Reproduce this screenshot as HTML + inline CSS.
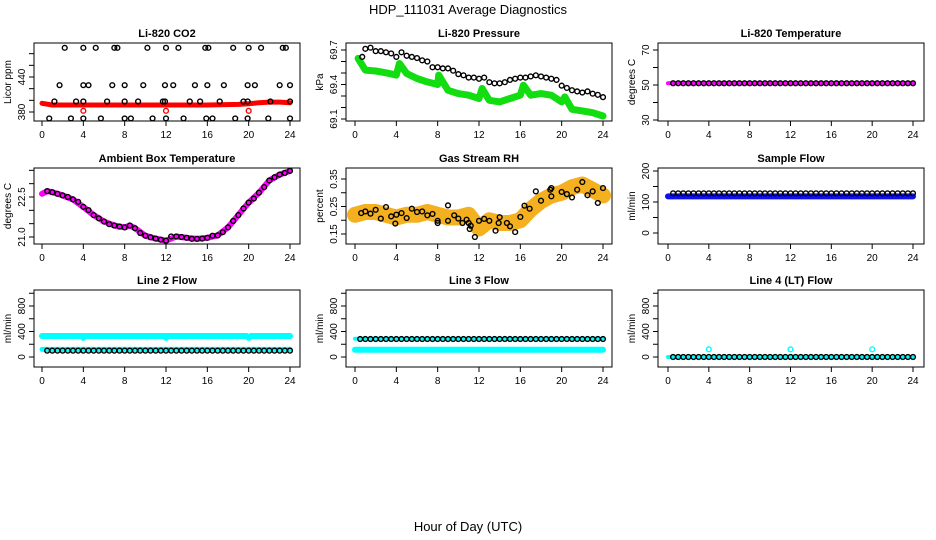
<!DOCTYPE html>
<html><head><meta charset="utf-8"><style>
body{margin:0;background:#fff}
svg{display:block;font-family:"Liberation Sans",sans-serif}
</style></head><body>
<svg id="c" width="936" height="540" viewBox="0 0 936 540">
<text x="468" y="14" text-anchor="middle" font-size="13">HDP_111031  Average Diagnostics</text>
<text x="468" y="531" text-anchor="middle" font-size="13">Hour of Day (UTC)</text>
</svg>
<script>
// ---- data ----
const xTicks=[0,4,8,12,16,20,24];
// CO2
const co2BandH=[0,1,4,8,12,16,19,20,21,22,23,24];
const co2BandV=[395,392,392,392,392,392,393,394,396,397,397,396];
const co2PtsH=[2.2,4,5.2,7,7.3,10.2,12,13.2,15.8,16.1,18.5,20,21.2,23.3,23.6, 1.7,4,4.5,6.8,8,9.8,11.9,12.7,14.8,16,17.6,19.9,20.6,23,24, 1.2,3.3,4,6.3,8,9.3,11.7,11.9,14.3,15.3,17.2,19.5,19.9,22.1,24, 0.7,2.8,4,5.7,8,8.6,10.7,12,13.7,15.9,16.5,18.7,19.9,21.9,24];
const co2PtsV=[490,490,490,490,490,490,490,490,490,490,490,490,490,490,490, 426,426,426,426,426,426,426,426,426,426,426,426,426,426,426, 398,398,398,398,398,398,398,398,398,398,398,398,398,398,398, 369,369,369,369,369,369,369,369,369,369,369,369,369,369,369];
const co2RedH=[4,12,20];
const co2RedV=[382,382,382];
// Pressure
const presBandH=[0.3,1,2,3,4,4.3,5,6,7,8,8.1,9,10,11,12,12.3,13,14,15,16,16.3,17,18,19,20,20.3,21,22,23,24];
const presBandV=[69.627,69.525,69.517,69.502,69.482,69.583,69.496,69.452,69.423,69.400,69.482,69.350,69.321,69.307,69.278,69.365,69.263,69.249,69.278,69.307,69.394,69.307,69.321,69.307,69.249,69.292,69.184,69.170,69.155,69.126];
const presPtsH=[0.7,1,1.5,2,2.5,3,3.5,4,4.5,5,5.5,6,6.5,7,7.5,8,8.5,9,9.5,10,10.5,11,11.5,12,12.5,13,13.5,14,14.5,15,15.5,16,16.5,17,17.5,18,18.5,19,19.5,20,20.5,21,21.5,22,22.5,23,23.5,24];
const presPtsV=[69.64,69.71,69.72,69.69,69.69,69.68,69.67,69.64,69.68,69.65,69.64,69.63,69.61,69.6,69.55,69.55,69.54,69.54,69.52,69.49,69.48,69.46,69.46,69.45,69.46,69.42,69.41,69.41,69.42,69.44,69.45,69.46,69.46,69.47,69.48,69.47,69.46,69.45,69.44,69.39,69.37,69.35,69.34,69.33,69.34,69.32,69.31,69.29];
// Li-820 temperature
const tempBandH=[0,24];
const tempBandV=[51,51];
const tempPtsH=[0.5,1,1.5,2,2.5,3,3.5,4,4.5,5,5.5,6,6.5,7,7.5,8,8.5,9,9.5,10,10.5,11,11.5,12,12.5,13,13.5,14,14.5,15,15.5,16,16.5,17,17.5,18,18.5,19,19.5,20,20.5,21,21.5,22,22.5,23,23.5,24];
const tempPtsV=[51,51,51,51,51,51,51,51,51,51,51,51,51,51,51,51,51,51,51,51,51,51,51,51,51,51,51,51,51,51,51,51,51,51,51,51,51,51,51,51,51,51,51,51,51,51,51,51];
// Ambient box
const ambH=[0.5,1,1.5,2,2.5,3,3.5,4,4.5,5,5.5,6,6.5,7,7.5,8,8.5,9,9.5,10,10.5,11,11.5,12,12.5,13,13.5,14,14.5,15,15.5,16,16.5,17,17.5,18,18.5,19,19.5,20,20.5,21,21.5,22,22.5,23,23.5,24];
const ambV=[22.72,22.68,22.62,22.56,22.5,22.41,22.32,22.13,22.01,21.82,21.70,21.58,21.48,21.43,21.39,21.36,21.43,21.33,21.15,21.05,20.99,20.94,20.90,20.86,21.02,21.02,21.0,20.97,20.93,20.93,20.94,20.97,21.05,21.06,21.18,21.36,21.60,21.82,22.07,22.29,22.44,22.66,22.87,23.12,23.24,23.34,23.40,23.48];
const ambBandH=[0,0.5,1,2,3,4,5,6,7,8,8.5,9,10,11,12,13,14,15,16,17,18,19,20,21,22,23,24];
const ambBandV=[22.62,22.72,22.68,22.56,22.41,22.13,21.82,21.58,21.43,21.36,21.43,21.33,21.05,20.94,20.86,21.02,20.97,20.93,20.97,21.06,21.36,21.82,22.29,22.66,23.12,23.34,23.48];
// RH
const rhBandH=[0,1,2,3,4,5,6,7,8,9,10,11,12,13,14,15,16,17,18,19,20,21,22,23,24];
const rhBandV=[0.22,0.23,0.23,0.22,0.21,0.22,0.22,0.23,0.22,0.21,0.21,0.22,0.17,0.20,0.19,0.19,0.20,0.24,0.27,0.29,0.30,0.32,0.33,0.31,0.29];
const rhPtsH=[0.6,1,1.5,2,2.5,3,3.5,3.9,4,4.5,5,5.5,6,6.5,7,7.5,8,8,9,9,9.6,10,10.4,10.8,11,11.1,11.2,11.6,12,12.5,13,13.6,13.9,14,14.7,15,15.5,16,16.4,16.9,17.5,18,18.9,19,19,20,20.5,21,21.5,22,22.5,23,23.5,24];
const rhPtsV=[0.226,0.232,0.224,0.238,0.206,0.248,0.214,0.188,0.220,0.226,0.208,0.242,0.230,0.232,0.218,0.223,0.198,0.190,0.254,0.198,0.218,0.206,0.190,0.202,0.190,0.168,0.180,0.139,0.198,0.205,0.198,0.162,0.190,0.211,0.190,0.178,0.157,0.212,0.253,0.242,0.305,0.271,0.311,0.287,0.317,0.303,0.295,0.283,0.311,0.339,0.291,0.305,0.263,0.317];
// flows
const flowH=[0.5,1,1.5,2,2.5,3,3.5,4,4.5,5,5.5,6,6.5,7,7.5,8,8.5,9,9.5,10,10.5,11,11.5,12,12.5,13,13.5,14,14.5,15,15.5,16,16.5,17,17.5,18,18.5,19,19.5,20,20.5,21,21.5,22,22.5,23,23.5,24];
const sampleBandH=[0,4,8,12,16,20,24];
const sampleBandV=[118,118,118,118,118,118,118];
const samplePtsV=[128,128,128,128,128,128,128,128,128,128,128,128,128,128,128,128,128,128,128,128,128,128,128,128,128,128,128,128,128,128,128,128,128,128,128,128,128,128,128,128,128,128,128,128,128,128,128,128];
const line2HiH=[0,3.9,4,4.1,11.9,12,12.1,19.8,20,20.2,24];
const line2HiV=[330,330,300,330,330,300,330,330,300,330,330];
const line2LoH=[0,24];
const line2LoV=[120,120];
const line2PtsV=[100,100,100,100,100,100,100,100,100,100,100,100,100,100,100,100,100,100,100,100,100,100,100,100,100,100,100,100,100,100,100,100,100,100,100,100,100,100,100,100,100,100,100,100,100,100,100,100];
const line3LoH=[0,24];
const line3LoV=[115,115];
const line3HiH=[0,24];
const line3HiV=[285,285];
const line3PtsV=[282,282,282,282,282,282,282,282,282,282,282,282,282,282,282,282,282,282,282,282,282,282,282,282,282,282,282,282,282,282,282,282,282,282,282,282,282,282,282,282,282,282,282,282,282,282,282,282];
const line4BandH=[0,24];
const line4BandV=[0,0];
const line4PtsV=[0,0,0,0,0,0,0,0,0,0,0,0,0,0,0,0,0,0,0,0,0,0,0,0,0,0,0,0,0,0,0,0,0,0,0,0,0,0,0,0,0,0,0,0,0,0,0,0];
const line4CyanH=[4,12,20];
const line4CyanV=[120,120,120];

// ---- layout ----
const svg=document.getElementById('c');
const NS='http://www.w3.org/2000/svg';
function mk(tag,attrs,parent){const e=document.createElementNS(NS,tag);for(const k in attrs)e.setAttribute(k,attrs[k]);(parent||svg).appendChild(e);return e;}
const cols=[{bl:34,br:300,x0:42,x24:290},{bl:346,br:612,x0:355,x24:603},{bl:658,br:924,x0:668,x24:913}];
const rows=[{bt:43,bb:121},{bt:168,bb:244},{bt:290,bb:367}];

function panel(ci,ri,name,title,ylab,ref,ticks,labels){
  const C=cols[ci],R=rows[ri];
  const g=mk('g',{});
  
  
  const xs=h=>C.x0+(C.x24-C.x0)*h/24;
  const ys=v=>ref[1]+(v-ref[0])*(ref[3]-ref[1])/(ref[2]-ref[0]);
  const cx=(C.bl+C.br)/2;
  const t=mk('text',{x:cx,y:R.bt-6,'text-anchor':'middle','font-size':11,'font-weight':'bold'},g);t.textContent=title;
  
  const bx=mk('rect',{x:C.bl,y:R.bt,width:C.br-C.bl,height:R.bb-R.bt,fill:'none',stroke:'#000','stroke-width':1},g);
  
  xTicks.forEach(h=>{
    mk('line',{x1:xs(h),x2:xs(h),y1:R.bb,y2:R.bb+5,stroke:'#000'},g);
    const l=mk('text',{x:xs(h),y:R.bb+17,'text-anchor':'middle','font-size':10},g);l.textContent=h;
    
  });
  ticks.forEach(v=>{mk('line',{x1:C.bl-5,x2:C.bl,y1:ys(v),y2:ys(v),stroke:'#000'},g);});
  labels.forEach(v=>{
    const y=ys(v);const l=mk('text',{x:C.bl-9,y:y,'text-anchor':'middle','font-size':10,transform:`rotate(-90 ${C.bl-9} ${y})`},g);
    l.textContent=v;
  });
  const yl=(R.bt+R.bb)/2,xl=C.bl-23;
  const ylt=mk('text',{x:xl,y:yl,'text-anchor':'middle','font-size':10,transform:`rotate(-90 ${xl} ${yl})`},g);ylt.textContent=ylab;
  
  return {g,xs,ys};
}
function band(p,H,V,color,w,name){
  const pts=H.map((h,i)=>p.xs(h).toFixed(1)+','+p.ys(V[i]).toFixed(1)).join(' ');
  const e=mk('polyline',{points:pts,fill:'none',stroke:color,'stroke-width':w,'stroke-linejoin':'round','stroke-linecap':'round'},p.g);
  
}
function pts(p,H,V,color,name){
  H.forEach((h,i)=>{
    const e=mk('circle',{cx:p.xs(h),cy:p.ys(V[i]),r:2.4,fill:'none',stroke:color,'stroke-width':1.4},p.g);
    
  });
}
const fTicks=[0,200,400,600,800,1000];
let p;
p=panel(0,0,'panel-co2','Li-820 CO2','Licor ppm',[440,77,380,112],[380,400,420,440,460,480],[380,440]);
band(p,co2BandH,co2BandV,'#ff0000',5,'co2-band');pts(p,co2RedH,co2RedV,'#ff0000','co2-red-point');pts(p,co2PtsH,co2PtsV,'#000','co2-point');
p=panel(1,0,'panel-pressure','Li-820 Pressure','kPa',[69.7,50,69.1,119],[69.1,69.2,69.3,69.4,69.5,69.6,69.7],[69.1,69.4,69.7]);
band(p,presBandH,presBandV,'#11dd11',7,'pressure-band');pts(p,presPtsH,presPtsV,'#000','pressure-point');
p=panel(2,0,'panel-li820-temp','Li-820 Temperature','degrees C',[70,50,30,120],[30,40,50,60,70],[30,50,70]);
band(p,tempBandH,tempBandV,'#ff00ff',4,'temp-band');pts(p,tempPtsH,tempPtsV,'#000','temp-point');
p=panel(0,1,'panel-ambient','Ambient Box Temperature','degrees C',[22.5,197,21.0,237],[21,21.5,22,22.5,23,23.5],['21.0','22.5']);
band(p,ambBandH,ambBandV,'#ff00ff',6,'ambient-band');pts(p,ambH,ambV,'#000','ambient-point');
p=panel(1,1,'panel-rh','Gas Stream RH','percent',[0.35,179,0.15,234],[0.15,0.2,0.25,0.3,0.35],[0.15,0.25,0.35]);
band(p,rhBandH,rhBandV,'#f5b020',16,'rh-band');pts(p,rhPtsH,rhPtsV,'#000','rh-point');
p=panel(2,1,'panel-sample-flow','Sample Flow','ml/min',[200,171,0,233],[0,50,100,150,200],[0,100,200]);
band(p,sampleBandH,sampleBandV,'#1010ee',6,'sample-band');pts(p,flowH,samplePtsV,'#000','sample-point');
p=panel(0,2,'panel-line2','Line 2 Flow','ml/min',[800,306,0,357],fTicks,[0,400,800]);
band(p,line2HiH,line2HiV,'#00ffff',6,'line2-high-band');band(p,line2LoH,line2LoV,'#00ffff',5,'line2-low-band');pts(p,flowH,line2PtsV,'#000','line2-point');
p=panel(1,2,'panel-line3','Line 3 Flow','ml/min',[800,306,0,357],fTicks,[0,400,800]);
band(p,line3LoH,line3LoV,'#00ffff',6,'line3-low-band');band(p,line3HiH,line3HiV,'#00ffff',4,'line3-high-band');pts(p,flowH,line3PtsV,'#000','line3-point');
p=panel(2,2,'panel-line4','Line 4 (LT) Flow','ml/min',[800,306,0,357],fTicks,[0,400,800]);
band(p,line4BandH,line4BandV,'#00ffff',4,'line4-band');pts(p,flowH,line4PtsV,'#000','line4-point');pts(p,line4CyanH,line4CyanV,'#00ffff','line4-cyan-point');
</script>
</body></html>
